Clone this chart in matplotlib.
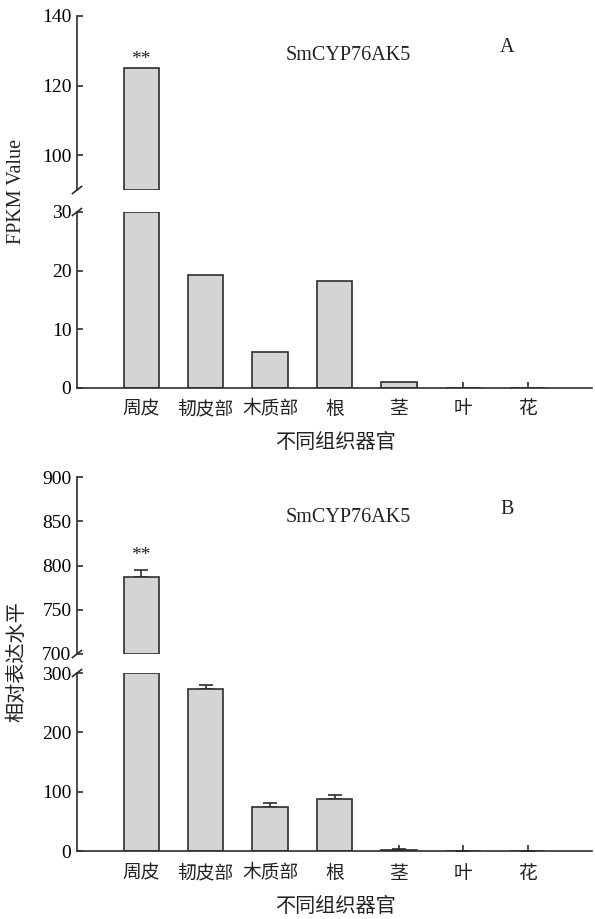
import numpy as np
import matplotlib
matplotlib.use("Agg")
import matplotlib.pyplot as plt
from matplotlib.lines import Line2D

# ---------------- data ----------------
categories = ["周皮", "韧皮部", "木质部", "根", "茎", "叶", "花"]
fpkm_values = [125.0, 19.2, 6.2, 18.2, 1.0, 0.0, 0.0]
rel_values = [787.0, 273.0, 74.0, 88.0, 2.0, 0.0, 0.0]
rel_errors = [8.0, 7.0, 7.0, 6.0, 2.0, 0.0, 0.0]
gene_name = "SmCYP76AK5"

a_upper_ticks = [100, 120, 140]
a_lower_ticks = [0, 10, 20, 30]
b_upper_ticks = [700, 750, 800, 850, 900]
b_lower_ticks = [0, 100, 200, 300]

# ---------------- style ----------------
SERIF = ["Liberation Serif", "DejaVu Serif"]
CJK = ["Noto Sans CJK SC", "DejaVu Sans"]
EDGE = "#2e2e2e"
FILL = "#d3d4d6"
LW = 1.2

W, H = 595, 919
fig = plt.figure(figsize=(W / 100, H / 100), dpi=100)


def fax(x0, y_top, y_bot):
    """axes from pixel coords"""
    return fig.add_axes([x0 / W, 1 - y_bot / H, (592 - x0) / W, (y_bot - y_top) / H])


def style(ax, show_bottom):
    for s in ["top", "right"]:
        ax.spines[s].set_visible(False)
    ax.spines["left"].set_color(EDGE)
    ax.spines["left"].set_linewidth(LW)
    if show_bottom:
        ax.spines["bottom"].set_color(EDGE)
        ax.spines["bottom"].set_linewidth(LW)
    else:
        ax.spines["bottom"].set_visible(False)
    ax.tick_params(axis="y", direction="in", length=4, width=LW, color=EDGE,
                   labelsize=14, pad=4)
    for lab in ax.get_yticklabels():
        lab.set_family(SERIF)
    ax.set_xlim(-1, 7)


def breakmark(ax, where, hpx):
    dx = 4.5 / (592 - 77)
    dy = 3.5 / hpx
    y = 0 if where == "bottom" else 1
    ax.add_line(Line2D([-dx, dx], [y - dy, y + dy], transform=ax.transAxes,
                       color=EDGE, lw=LW, clip_on=False))


def panel(y_up_top, y_up_bot, y_lo_top, y_lo_bot, vals, errs,
          up_lim, lo_lim, up_ticks, lo_ticks, letter, title_y, letter_y,
          star_y, ylabel, ylabel_fam, ylabel_y, ticklab_y, xlabel_y):
    x = np.arange(len(categories))
    vals = np.asarray(vals, dtype=float)
    up = fax(77, y_up_top, y_up_bot)
    lo = fax(77, y_lo_top, y_lo_bot)

    # upper part
    mask = vals > up_lim[0]
    up.bar(x[mask], vals[mask] - up_lim[0], bottom=up_lim[0], width=0.55,
           color=FILL, edgecolor=EDGE, linewidth=LW, zorder=2)
    if errs is not None:
        e = np.asarray(errs)
        up.errorbar(x[mask], vals[mask], yerr=[np.zeros(mask.sum()), e[mask]],
                    fmt="none", ecolor=EDGE, elinewidth=LW, capsize=5,
                    capthick=LW, zorder=1)
    up.set_ylim(*up_lim)
    up.set_yticks(up_ticks)
    up.set_xticks([])
    style(up, False)

    # lower part
    h = np.minimum(vals, lo_lim[1])
    lo.bar(x, h, width=0.55, color=FILL, edgecolor=EDGE, linewidth=LW,
           zorder=2)
    if errs is not None:
        e = np.asarray(errs)
        m2 = vals < lo_lim[1]
        lo.errorbar(x[m2], vals[m2], yerr=[np.zeros(m2.sum()), e[m2]],
                    fmt="none", ecolor=EDGE, elinewidth=LW, capsize=5,
                    capthick=LW, zorder=1)
    lo.set_ylim(*lo_lim)
    lo.set_yticks(lo_ticks)
    lo.set_xticks(x)
    lo.set_xticklabels([])
    style(lo, True)
    lo.tick_params(axis="x", direction="in", length=4, width=LW, color=EDGE)

    breakmark(up, "bottom", y_up_bot - y_up_top)
    breakmark(lo, "top", y_lo_bot - y_lo_top)

    # category labels
    for xi, c in zip(x, categories):
        px = 77 + (xi + 1) / 8 * (592 - 77)
        fig.text(px / W, 1 - ticklab_y / H, c, family=CJK, fontsize=13.5,
                 ha="center", va="center", color="#222")
    fig.text(335 / W, 1 - xlabel_y / H, "不同组织器官", family=CJK,
             fontsize=14.5, ha="center", va="center", color="#222")
    fig.text(17 / W, 1 - ylabel_y / H, ylabel, family=ylabel_fam,
             fontsize=14.5, rotation=90, ha="center", va="center", color="#222")
    fig.text(348 / W, 1 - title_y / H, gene_name, family=SERIF, fontsize=14.5,
             ha="center", va="center", color="#222")
    fig.text(507 / W, 1 - letter_y / H, letter, family=SERIF, fontsize=14.5,
             ha="center", va="center", color="#222")
    fig.text(141 / W, 1 - star_y / H, "**", family=SERIF, fontsize=14,
             ha="center", va="center", color="#222")


panel(16, 190, 212, 388, fpkm_values, None, (90, 140), (0, 30),
      a_upper_ticks, a_lower_ticks, "A", 56, 47, 59,
      "FPKM Value", SERIF, 191, 409, 443)
panel(477, 654, 673, 851, rel_values, rel_errors, (700, 900), (0, 300),
      b_upper_ticks, b_lower_ticks, "B", 518, 510, 555,
      "相对表达水平", CJK, 662, 873, 906)

fig.savefig("out.png", dpi=100)
